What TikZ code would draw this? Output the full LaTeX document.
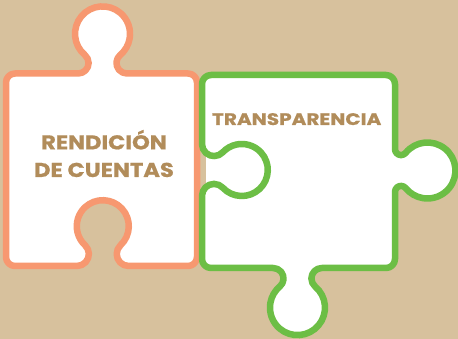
\documentclass[tikz,border=0pt]{standalone}
\usepackage{fontspec}
\setmainfont{Poppins}
\newfontfamily\rotulo{Poppins}[FakeStretch=1.13,FakeBold=0.8]
\newfontfamily\rotuloancho{Poppins}[FakeStretch=1.2,FakeBold=0.8]
\definecolor{fondo}{HTML}{D7C19D}
\definecolor{salmon}{HTML}{F79870}
\definecolor{verde}{HTML}{6CBE45}
\definecolor{ocre}{HTML}{B18C5A}
% tab going out: #1 direction of travel, #2 neck radius, #3 tangent angle, #4 head radius
\newcommand{\tabout}[4]{arc[start angle=#1-90, end angle=#1+#3, radius=#2] arc[start angle=#1+#3+180, end angle=#1-#3, radius=#4] arc[start angle=#1+180-#3, end angle=#1+270, radius=#2]}
% same, cut into the piece
\newcommand{\tabin}[4]{arc[start angle=#1+90, end angle=#1-#3, radius=#2] arc[start angle=#1+180-#3, end angle=#1+360+#3, radius=#4] arc[start angle=#1+#3-180, end angle=#1-270, radius=#2]}
\begin{document}
\begin{tikzpicture}[x=1pt,y=1pt,line join=round,line cap=round,line width=6.5pt,
	label/.style={text=ocre,align=center,inner sep=0pt}]
			\fill[fondo] (0,0) rectangle (458,-339);
			\useasboundingbox (0,0) rectangle (458,-339);
			% rendicion de cuentas
			\draw[salmon,fill=white] (15,-73.5) -- (78.1,-73.5) \tabout{0}{10.5}{50}{27.5}
			-- (188,-73.5) arc[start angle=90,end angle=0,radius=9]
			-- (197,-257) arc[start angle=0,end angle=-90,radius=9]
			-- (128.7,-266) \tabin{180}{12}{47}{26}
			-- (15,-266) arc[start angle=270,end angle=180,radius=9]
			-- (6,-82.5) arc[start angle=180,end angle=90,radius=9] -- cycle;
			% transparencia
			\fill[white] (206,-79) rectangle (391,-264);
			\draw[verde,fill=white] (211,-75) -- (386,-75) arc[start angle=90,end angle=0,radius=9]
			-- (395,-149.1) \tabout{-90}{6}{51}{28}
			-- (395,-259) arc[start angle=0,end angle=-90,radius=9]
			-- (321.9,-268) \tabout{180}{10.5}{50}{27.5}
			-- (211,-268) arc[start angle=270,end angle=180,radius=9]
			-- (202,-195.9) \tabin{90}{12}{47}{26}
			-- (202,-84) arc[start angle=180,end angle=90,radius=9] -- cycle;
			\node[label,font=\rotulo\bfseries\fontsize{20}{27.6}\selectfont] (rendicion) at (104,-153.5) {RENDICIÓN\\DE CUENTAS};
			\node[label,font=\rotuloancho\bfseries\fontsize{16.7}{20}\selectfont,anchor=base] (transparencia) at (296.7,-125) {TRANSPARENCIA};
		\end{tikzpicture}
\end{document}
